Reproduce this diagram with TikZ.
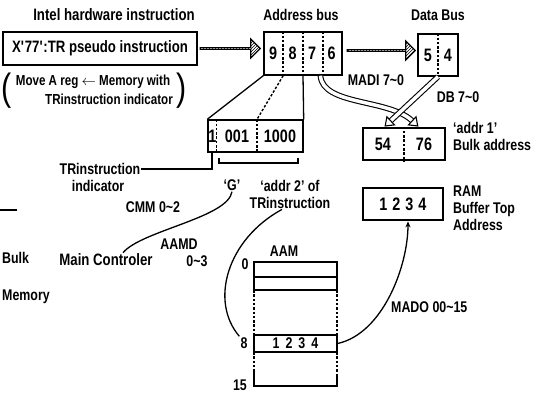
\documentclass[tikz,border=0pt]{standalone}
\usepackage{fontspec}
\newfontfamily\hand{Liberation Sans}[FakeStretch=0.8]
\usetikzlibrary{arrows.meta, positioning, calc, shapes.arrows, patterns}
\tikzset{
  lbl/.style={font=\hand\bfseries\fontsize{15.5}{17}\selectfont, inner sep=1pt},
  sml/.style={font=\hand\bfseries\fontsize{14.5}{16}\selectfont, inner sep=1pt},
  big/.style={font=\hand\bfseries\fontsize{18}{20}\selectfont, inner sep=1pt},
  box/.style={draw, line width=1.4pt, inner sep=0pt},
  tbox/.style={draw, line width=2.8pt, inner sep=0pt},
  div/.style={line width=1.4pt, dash pattern=on 2.5pt off 1.8pt},
  lnk/.style={line width=1.3pt},
  harrow/.style={single arrow, draw, line width=1.1pt, pattern=north east lines,
    minimum width=19pt, single arrow head extend=5pt, inner sep=0pt},
  hol/.style={double, double distance=3.5pt, line width=1.1pt,
    -{Triangle[open, length=9pt, width=13pt]}},
}
\begin{document}
\begin{tikzpicture}[x=1pt, y=-1pt]
  \useasboundingbox (0,0) rectangle (547,396);

  % instruction
  \node[lbl, font=\hand\bfseries\fontsize{16.5}{18}\selectfont] (intel) at (114,15) {Intel hardware instruction};
  \node[box, big, font=\hand\bfseries\fontsize{16.5}{18}\selectfont, minimum width=194pt, minimum height=33pt] (instr) at (100,48.5)
    {X\textquotesingle 77\textquotesingle:TR pseudo instruction};
  \node[sml] (mv1) at (93,82) {Move A reg $\leftarrow$ Memory with};
  \node[sml] (mv2) at (109,99) {TRinstruction indicator};
  \node[font=\hand\fontsize{38}{40}\selectfont] (lp) at (7,91) {(};
  \node[font=\hand\fontsize{38}{40}\selectfont] (rp) at (182,91) {)};

  % address bus and data bus
  \node[lbl] (abl) at (301,15) {Address bus};
  \node[box, minimum width=78pt, minimum height=43pt] (abus) at (303,53.5) {};
  \foreach \d [count=\i] in {9,8,7,6}
    \node[big] (a\d) at ($(abus.west)+(\i*19.5-9.75,0)$) {\d};
  \foreach \f in {0.25,0.5,0.75}
    \draw[div] ($(abus.north west)!\f!(abus.north east)$) -- ($(abus.south west)!\f!(abus.south east)$);
  \node[lbl] (dbl) at (438,15) {Data Bus};
  \node[box, minimum width=40pt, minimum height=42pt] (dbus) at (438,55) {};
  \node[big] (d5) at (428,55) {5};
  \node[big] (d4) at (448,55) {4};
  \draw[div] (dbus.north) -- (dbus.south);

  \node[harrow, minimum height=60pt, anchor=west] (h1) at ([xshift=2pt]instr.east) {};
  \node[harrow, minimum height=68pt, anchor=west] (h2) at ([xshift=4pt,yshift=3pt]abus.east) {};

  % TR instruction
  \node[box, minimum width=95pt, minimum height=32pt] (tr) at (255.5,136) {};
  \node[big] (t1) at (212.5,136) {1};
  \node[big] (t001) at (237,136) {001};
  \node[big] (t1000) at (280,136) {1000};
  \draw[div] ($(tr.north west)!.095!(tr.north east)$) -- ($(tr.south west)!.095!(tr.south east)$);
  \draw[div] ($(tr.north west)!.516!(tr.north east)$) -- ($(tr.south west)!.516!(tr.south east)$);
  \draw[lnk] (abus.south west) -- (tr.north west);
  \draw[div] ($(abus.south west)!.25!(abus.south east)$) -- ($(tr.north west)!.516!(tr.north east)$);
  \draw[lnk] (abus.south) -- (tr.north east);

  \node[lbl] (tri1) at (100,169) {TRinstruction};
  \node[lbl] (tri2) at (98,186) {indicator};
  \draw[lnk] ($(tr.south west)!.05!(tr.south east)$) |- (tri1.east);
  \coordinate (brl) at (219,163);
  \coordinate (brr) at (298,163);
  \draw[lnk] ($(brl)+(0,-5)$) -- (brl) -- (brr) -- ($(brr)+(0,-5)$);
  \node[lbl] (g) at (232,185) {‘G’};
  \node[lbl, align=center] (ad2) at (290,194) {‘addr 2’ of\\TRinstruction};

  % bulk address and RAM
  \node[tbox, minimum width=82pt, minimum height=32pt] (bk) at (404,144) {};
  \node[big] (b54) at (383,144) {54};
  \node[big] (b76) at (424,144) {76};
  \draw[div] (bk.north) -- (bk.south);
  \node[lbl, anchor=west] (ad1) at (452,128) {‘addr 1’};
  \node[lbl, anchor=west] (bka) at (452,145) {Bulk address};
  \node[tbox, big, minimum width=80pt, minimum height=32pt] (ram) at (403,204)
    {1\hspace{5pt}2\hspace{5pt}3\hspace{5pt}4};
  \node[lbl, anchor=west, align=left] (raml) at (452,208) {RAM\\Buffer Top\\Address};

  \node[lbl] (madi) at (376,80) {MADI 7\textasciitilde 0};
  \node[lbl] (db) at (458,97) {DB 7\textasciitilde 0};
  \draw[hol] ($(abus.south west)!.72!(abus.south east)$) .. controls +(2,30) and +(-30,-28) ..
    ($(bk.north west)!.67!(bk.north east)$);
  \draw[hol] (dbus.south) -- ($(bk.north west)!.27!(bk.north east)$);

  % controller side
  \coordinate (cut) at (0,210);
  \draw[lnk] (cut) -- ++(17,0);
  \node[lbl, anchor=west] (bulk) at (1,258) {Bulk};
  \node[lbl, anchor=west] (mem) at (1,297) {Memory};
  \node[lbl, font=\hand\bfseries\fontsize{16.5}{18}\selectfont] (mc) at (106,260) {Main Controler};
  \node[lbl] (cmm) at (153,207) {CMM 0\textasciitilde 2};
  \node[lbl] (aamd) at (179,244) {AAMD};
  \node[lbl] (aamr) at (197,261) {0\textasciitilde 3};
  \draw[lnk] (g.south) .. controls +(-4,26) and +(18,-22) .. ([xshift=17pt]mc.north);

  % AAM
  \node[lbl] (aaml) at (284,251) {AAM};
  \node[lbl] (i0) at (245,264) {0};
  \node[lbl] (i8) at (244,343) {8};
  \node[lbl] (i15) at (240,385) {15};
  \draw[lnk] (254,290) -- (254,262) -- (337,262) -- (337,290);
  \draw[lnk] (254,277) -- (337,277);
  \draw[lnk] (254,290) -- (337,290);
  \draw[div] (254,290) -- (254,335);
  \draw[div] (337,290) -- (337,335);
  \node[box, lbl, minimum width=83pt, minimum height=17pt] (row8) at (295.5,343.5)
    {1\hspace{6pt}2\hspace{6pt}3\hspace{6pt}4};
  \draw[div] (254,352) -- (254,372);
  \draw[div] (337,352) -- (337,375);
  \draw[lnk] (254,372) -- (254,386) -- (337,386) -- (337,375);
  \draw[lnk] ([xshift=-8pt]ad2.south) .. controls +(-55,30) and +(-30,-35) .. (i8.north west);
  \node[lbl, anchor=west] (mado) at (390,307) {MADO 00\textasciitilde 15};
  \draw[lnk, -{Stealth[length=6pt, width=5pt]}] (row8.east) .. controls +(45,-10) and +(0,45) .. ([xshift=5pt]ram.south);
\end{tikzpicture}
\end{document}
